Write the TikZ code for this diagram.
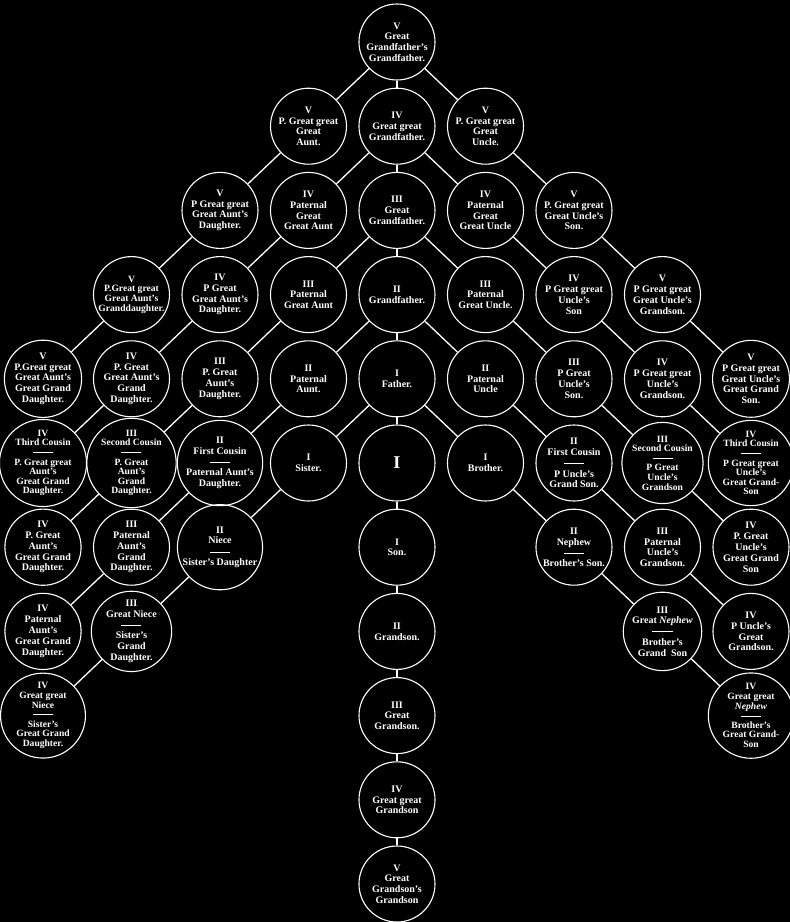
\documentclass[tikz,border=0pt]{standalone}
\usepackage{fontspec}
\setmainfont{Liberation Serif}
\usetikzlibrary{calc}
\newcommand\kinrule{\rule[2.5pt]{20pt}{0.7pt}}

\begin{document}
\begin{tikzpicture}[x=88.5pt,y=84.2pt,
  kin/.style={circle,draw=white,line width=1.1pt,minimum size=76pt,inner sep=0pt,
    align=center,text=white,font=\bfseries\fontsize{10}{10.8}\selectfont},
  dense/.style={font=\bfseries\fontsize{9.6}{9.6}\selectfont},
  link/.style={white,line width=1.3pt}]
\useasboundingbox[fill=black] (-397pt,42pt) rectangle (393pt,-880pt);

% centre line
\node[kin] (C0) at (0,0) {V\\Great\\Grandfather's\\Grandfather.};
\node[kin] (C1) at (0,-1) {IV\\Great great\\Grandfather.};
\node[kin] (C2) at (0,-2) {III\\Great\\Grandfather.};
\node[kin] (C3) at (0,-3) {II\\Grandfather.};
\node[kin] (C4) at (0,-4) {I\\Father.};
\node[kin,font=\bfseries\fontsize{18}{18}\selectfont] (C5) at (0,-5) {I};
\node[kin] (C6) at (0,-6) {I\\Son.};
\node[kin] (C7) at (0,-7) {II\\Grandson.};
\node[kin] (C8) at (0,-8) {III\\Great\\Grandson.};
\node[kin] (C9) at (0,-9) {IV\\Great great\\Grandson};
\node[kin] (C10) at (0,-10) {V\\Great\\Grandson's\\Grandson};

% father's sisters' side
\node[kin] (L1-1) at (-1,-1) {V\\P. Great great\\Great\\Aunt.};
\node[kin] (L2-2) at (-2,-2) {V\\P Great great\\Great Aunt's\\Daughter.};
\node[kin,dense] (L3-3) at (-3,-3) {V\\P.Great great\\Great Aunt's\\Granddaughter.};
\node[kin] (L4-4) at (-4,-4) {V\\P.Great great\\Great Aunt's\\Great Grand\\Daughter.};
\node[kin] (L1-2) at (-1,-2) {IV\\Paternal\\Great\\Great Aunt};
\node[kin] (L2-3) at (-2,-3) {IV\\P Great\\Great Aunt's\\Daughter.};
\node[kin] (L3-4) at (-3,-4) {IV\\P. Great\\Great Aunt's\\Grand\\Daughter.};
\node[kin,dense] (L4-5) at (-4,-5) {IV\\Third Cousin\\\kinrule\\P. Great great\\Aunt's\\Great Grand\\Daughter.};
\node[kin] (L1-3) at (-1,-3) {III\\Paternal\\Great Aunt};
\node[kin] (L2-4) at (-2,-4) {III\\P. Great\\Aunt's\\Daughter.};
\node[kin,dense] (L3-5) at (-3,-5) {III\\Second Cousin\\\kinrule\\P. Great\\Aunt's\\Grand\\Daughter.};
\node[kin] (L4-6) at (-4,-6) {IV\\P. Great\\Aunt's\\Great Grand\\Daughter.};
\node[kin] (L1-4) at (-1,-4) {II\\Paternal\\Aunt.};
\node[kin] (L2-5) at (-2,-5) {II\\First Cousin\\\kinrule\\Paternal Aunt's\\Daughter.};
\node[kin] (L3-6) at (-3,-6) {III\\Paternal\\Aunt's\\Grand\\Daughter.};
\node[kin] (L4-7) at (-4,-7) {IV\\Paternal\\Aunt's\\Great Grand\\Daughter.};
\node[kin] (L1-5) at (-1,-5) {I\\Sister.};
\node[kin] (L2-6) at (-2,-6) {II\\Niece\\\kinrule\\Sister's Daughter};
\node[kin] (L3-7) at (-3,-7) {III\\Great Niece\\\kinrule\\Sister's\\Grand\\Daughter.};
\node[kin,dense] (L4-8) at (-4,-8) {IV\\Great great\\Niece\\\kinrule\\Sister's\\Great Grand\\Daughter.};

% father's brothers' side
\node[kin] (R1-1) at (1,-1) {V\\P. Great great\\Great\\Uncle.};
\node[kin] (R2-2) at (2,-2) {V\\P. Great great\\Great Uncle's\\Son.};
\node[kin] (R3-3) at (3,-3) {V\\P Great great\\Great Uncle's\\Grandson.};
\node[kin] (R4-4) at (4,-4) {V\\P Great great\\Great Uncle's\\Great Grand\\Son.};
\node[kin] (R1-2) at (1,-2) {IV\\Paternal\\Great\\Great Uncle};
\node[kin] (R2-3) at (2,-3) {IV\\P Great great\\Uncle's\\Son};
\node[kin] (R3-4) at (3,-4) {IV\\P Great great\\Uncle's\\Grandson.};
\node[kin,dense] (R4-5) at (4,-5) {IV\\Third Cousin\\\kinrule\\P Great great\\Uncle's\\Great Grand-\\Son};
\node[kin] (R1-3) at (1,-3) {III\\Paternal\\Great Uncle.};
\node[kin] (R2-4) at (2,-4) {III\\P Great\\Uncle's\\Son.};
\node[kin,dense] (R3-5) at (3,-5) {III\\Second Cousin\\\kinrule\\P Great\\Uncle's\\Grandson};
\node[kin] (R4-6) at (4,-6) {IV\\P. Great\\Uncle's\\Great Grand\\Son};
\node[kin] (R1-4) at (1,-4) {II\\Paternal\\Uncle};
\node[kin] (R2-5) at (2,-5) {II\\First Cousin\\\kinrule\\P Uncle's\\Grand Son.};
\node[kin] (R3-6) at (3,-6) {III\\Paternal\\Uncle's\\Grandson.};
\node[kin] (R4-7) at (4,-7) {IV\\P Uncle's\\Great\\Grandson.};
\node[kin] (R1-5) at (1,-5) {I\\Brother.};
\node[kin] (R2-6) at (2,-6) {II\\Nephew\\\kinrule\\Brother's Son.};
\node[kin] (R3-7) at (3,-7) {III\\Great \textit{Nephew}\\\kinrule\\Brother's\\Grand\enspace Son};
\node[kin,dense] (R4-8) at (4,-8) {IV\\Great great\\\textit{Nephew}\\\kinrule\\Brother's\\Great Grand-\\Son};

% connectors
\foreach \r in {0,...,9}{
  \pgfmathtruncatemacro\n{\r+1}
  \draw[link] (C\r) -- (C\n);
}
\foreach \s in {0,...,4}{
  \pgfmathtruncatemacro\a{\s+1}
  \pgfmathtruncatemacro\b{\s+2}
  \pgfmathtruncatemacro\c{\s+3}
  \pgfmathtruncatemacro\d{\s+4}
  \draw[link] (C\s) -- (L1-\a) -- (L2-\b) -- (L3-\c) -- (L4-\d);
  \draw[link] (C\s) -- (R1-\a) -- (R2-\b) -- (R3-\c) -- (R4-\d);
}
\end{tikzpicture}
\end{document}
